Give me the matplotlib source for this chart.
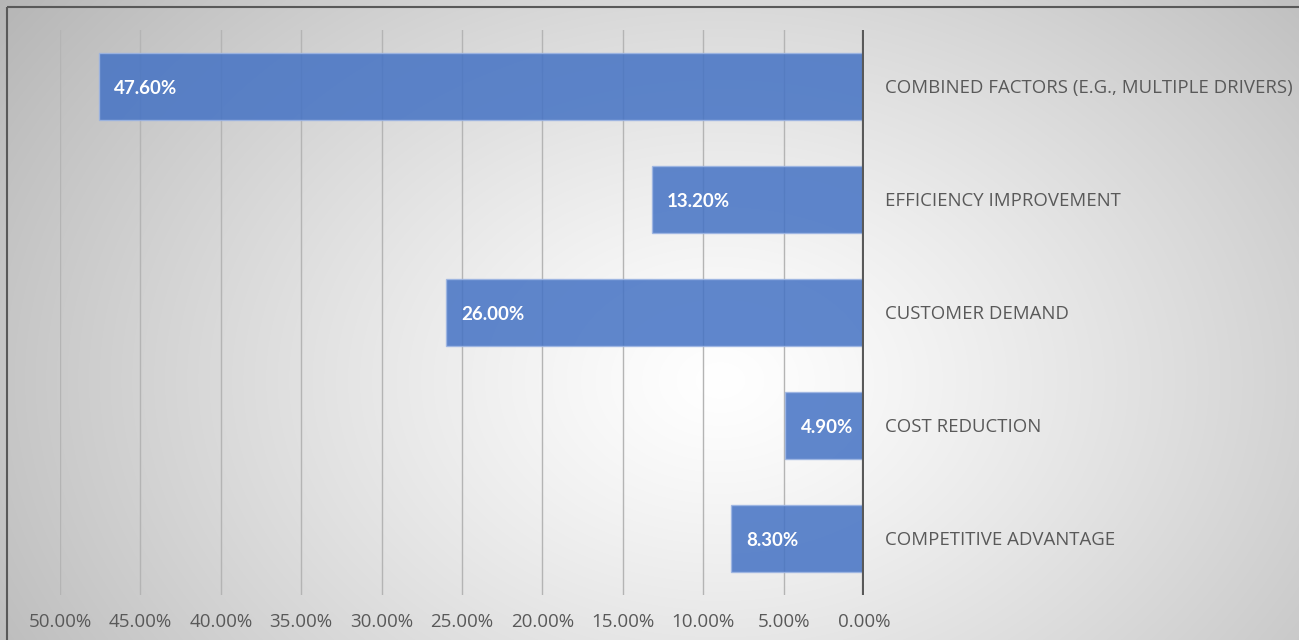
import matplotlib
matplotlib.use('Agg')
import numpy as np
import matplotlib.pyplot as plt
from matplotlib.patches import Rectangle

categories = ['COMPETITIVE ADVANTAGE', 'COST REDUCTION', 'CUSTOMER DEMAND',
              'EFFICIENCY IMPROVEMENT', 'COMBINED FACTORS (E.G., MULTIPLE DRIVERS)']
values = [8.3, 4.9, 26.0, 13.2, 47.6]
ticks = [50, 45, 40, 35, 30, 25, 20, 15, 10, 5, 0]

W, H = 1299, 640
fig = plt.figure(figsize=(W / 100, H / 100), dpi=100)

# radial gradient background
bg = fig.add_axes([0, 0, 1, 1], zorder=-10)
yy, xx = np.mgrid[0:H, 0:W]
cx, cy = 720, 380
r = np.sqrt(((xx - cx) / 760.0) ** 2 + ((yy - cy) / 560.0) ** 2)
shade = 1.0 - 0.24 * np.clip(r, 0, 1.2) ** 1.2
bg.imshow(np.dstack([shade] * 3), extent=[0, W, H, 0], aspect='auto')
bg.add_patch(Rectangle((7, 7), W + 20, H + 20, fill=False, edgecolor='#595959', lw=1.5))
bg.set_xlim(0, W)
bg.set_ylim(H, 0)
bg.axis('off')

ax = fig.add_axes([60 / W, 1 - 595 / H, (864 - 60) / W, 565 / H])
ax.patch.set_alpha(0)
y = np.arange(len(categories))
bars = ax.barh(y, values, height=0.6, color='#4472C4', alpha=0.85,
               edgecolor='#9DB5E3', linewidth=1, zorder=3)
ax.set_xlim(50, 0)
ax.set_ylim(-0.5, len(categories) - 0.5)
ax.set_xticks(ticks)
ax.set_xticklabels([f'{t:.2f}%' for t in ticks], fontsize=13.5, color='#595959',
                   family='Open Sans')
ax.tick_params(axis='x', length=0, pad=13)
ax.set_yticks([])
for s in ax.spines.values():
    s.set_visible(False)
ax.grid(axis='x', color='#b4b4b4', linewidth=1, zorder=0)
ax.axvline(0, color='#595959', linewidth=3, zorder=6)

for yi, v, c in zip(y, values, categories):
    ax.annotate(f'{v:.2f}%', xy=(v, yi), xytext=(11, -1.2), textcoords='offset points',
                ha='left', va='center', color='white', fontsize=13.5, fontweight='bold',
                family='Lato', zorder=5)
    ax.annotate(c, xy=(0, yi), xytext=(15, -1.2), textcoords='offset points',
                ha='left', va='center', color='#595959', fontsize=13.4,
                family='Open Sans', annotation_clip=False)

fig.savefig('out.png', dpi=100)
